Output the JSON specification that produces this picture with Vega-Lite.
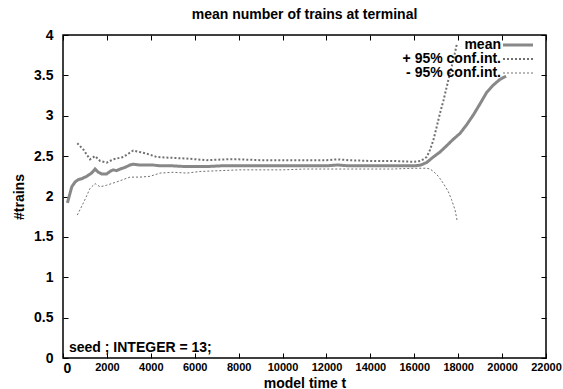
{
  "$schema": "https://vega.github.io/schema/vega-lite/v6.json",
  "width": 483,
  "height": 323,
  "autosize": {"type": "none"},
  "padding": {"left": 63, "top": 35, "right": 17, "bottom": 31},
  "background": "white",
  "title": {"text": "mean number of trains at terminal", "font": "Liberation Sans", "fontSize": 14, "fontWeight": "bold", "color": "black", "anchor": "middle", "frame": "group", "baseline": "alphabetic", "offset": -5},
  "config": {
    "view": {"stroke": "black", "strokeWidth": 1.5},
    "font": "Liberation Sans",
    "axis": {"grid": false, "domain": false, "tickColor": "black", "tickWidth": 1, "tickSize": 5, "offset": -5, "labelColor": "black", "labelFont": "Liberation Sans", "labelFontWeight": "bold", "titleFont": "Liberation Sans", "titleFontWeight": "bold", "titleFontSize": 14, "titleColor": "black", "labelFlush": false, "labelOverlap": false}
  },
  "datasets": {
    "lines": [
      {"t": 200, "v": 1.92, "s": "mean"},
      {"t": 400, "v": 2.12, "s": "mean"},
      {"t": 550, "v": 2.18, "s": "mean"},
      {"t": 700, "v": 2.21, "s": "mean"},
      {"t": 850, "v": 2.22, "s": "mean"},
      {"t": 1080, "v": 2.25, "s": "mean"},
      {"t": 1300, "v": 2.29, "s": "mean"},
      {"t": 1460, "v": 2.34, "s": "mean"},
      {"t": 1610, "v": 2.30, "s": "mean"},
      {"t": 1760, "v": 2.28, "s": "mean"},
      {"t": 1990, "v": 2.28, "s": "mean"},
      {"t": 2140, "v": 2.31, "s": "mean"},
      {"t": 2290, "v": 2.33, "s": "mean"},
      {"t": 2440, "v": 2.32, "s": "mean"},
      {"t": 2600, "v": 2.34, "s": "mean"},
      {"t": 2820, "v": 2.36, "s": "mean"},
      {"t": 3050, "v": 2.39, "s": "mean"},
      {"t": 3200, "v": 2.40, "s": "mean"},
      {"t": 3500, "v": 2.39, "s": "mean"},
      {"t": 3800, "v": 2.39, "s": "mean"},
      {"t": 4100, "v": 2.39, "s": "mean"},
      {"t": 4400, "v": 2.38, "s": "mean"},
      {"t": 5000, "v": 2.38, "s": "mean"},
      {"t": 5600, "v": 2.37, "s": "mean"},
      {"t": 6500, "v": 2.37, "s": "mean"},
      {"t": 7200, "v": 2.38, "s": "mean"},
      {"t": 8000, "v": 2.38, "s": "mean"},
      {"t": 9000, "v": 2.38, "s": "mean"},
      {"t": 10000, "v": 2.38, "s": "mean"},
      {"t": 11000, "v": 2.38, "s": "mean"},
      {"t": 12000, "v": 2.38, "s": "mean"},
      {"t": 12500, "v": 2.39, "s": "mean"},
      {"t": 13000, "v": 2.38, "s": "mean"},
      {"t": 14000, "v": 2.38, "s": "mean"},
      {"t": 15000, "v": 2.38, "s": "mean"},
      {"t": 16000, "v": 2.38, "s": "mean"},
      {"t": 16300, "v": 2.39, "s": "mean"},
      {"t": 16560, "v": 2.42, "s": "mean"},
      {"t": 16870, "v": 2.49, "s": "mean"},
      {"t": 17170, "v": 2.55, "s": "mean"},
      {"t": 17480, "v": 2.63, "s": "mean"},
      {"t": 17780, "v": 2.71, "s": "mean"},
      {"t": 18080, "v": 2.78, "s": "mean"},
      {"t": 18390, "v": 2.89, "s": "mean"},
      {"t": 18690, "v": 3.01, "s": "mean"},
      {"t": 19000, "v": 3.15, "s": "mean"},
      {"t": 19300, "v": 3.29, "s": "mean"},
      {"t": 19600, "v": 3.38, "s": "mean"},
      {"t": 19900, "v": 3.45, "s": "mean"},
      {"t": 20180, "v": 3.49, "s": "mean"},
      {"t": 650, "v": 2.66, "s": "+ 95% conf.int."},
      {"t": 930, "v": 2.58, "s": "+ 95% conf.int."},
      {"t": 1230, "v": 2.46, "s": "+ 95% conf.int."},
      {"t": 1460, "v": 2.50, "s": "+ 95% conf.int."},
      {"t": 1690, "v": 2.44, "s": "+ 95% conf.int."},
      {"t": 1990, "v": 2.42, "s": "+ 95% conf.int."},
      {"t": 2290, "v": 2.46, "s": "+ 95% conf.int."},
      {"t": 2750, "v": 2.49, "s": "+ 95% conf.int."},
      {"t": 3200, "v": 2.57, "s": "+ 95% conf.int."},
      {"t": 3500, "v": 2.55, "s": "+ 95% conf.int."},
      {"t": 3810, "v": 2.53, "s": "+ 95% conf.int."},
      {"t": 4270, "v": 2.49, "s": "+ 95% conf.int."},
      {"t": 4870, "v": 2.48, "s": "+ 95% conf.int."},
      {"t": 5640, "v": 2.47, "s": "+ 95% conf.int."},
      {"t": 6550, "v": 2.45, "s": "+ 95% conf.int."},
      {"t": 7450, "v": 2.46, "s": "+ 95% conf.int."},
      {"t": 8000, "v": 2.46, "s": "+ 95% conf.int."},
      {"t": 8970, "v": 2.45, "s": "+ 95% conf.int."},
      {"t": 10000, "v": 2.45, "s": "+ 95% conf.int."},
      {"t": 11000, "v": 2.45, "s": "+ 95% conf.int."},
      {"t": 12000, "v": 2.45, "s": "+ 95% conf.int."},
      {"t": 12500, "v": 2.46, "s": "+ 95% conf.int."},
      {"t": 13000, "v": 2.45, "s": "+ 95% conf.int."},
      {"t": 14000, "v": 2.44, "s": "+ 95% conf.int."},
      {"t": 15000, "v": 2.44, "s": "+ 95% conf.int."},
      {"t": 16000, "v": 2.43, "s": "+ 95% conf.int."},
      {"t": 16300, "v": 2.44, "s": "+ 95% conf.int."},
      {"t": 16570, "v": 2.49, "s": "+ 95% conf.int."},
      {"t": 16720, "v": 2.58, "s": "+ 95% conf.int."},
      {"t": 16870, "v": 2.70, "s": "+ 95% conf.int."},
      {"t": 17020, "v": 2.86, "s": "+ 95% conf.int."},
      {"t": 17170, "v": 3.03, "s": "+ 95% conf.int."},
      {"t": 17330, "v": 3.19, "s": "+ 95% conf.int."},
      {"t": 17480, "v": 3.36, "s": "+ 95% conf.int."},
      {"t": 17630, "v": 3.53, "s": "+ 95% conf.int."},
      {"t": 17780, "v": 3.69, "s": "+ 95% conf.int."},
      {"t": 17950, "v": 3.90, "s": "+ 95% conf.int."},
      {"t": 650, "v": 1.77, "s": "- 95% conf.int."},
      {"t": 930, "v": 1.92, "s": "- 95% conf.int."},
      {"t": 1230, "v": 2.10, "s": "- 95% conf.int."},
      {"t": 1460, "v": 2.16, "s": "- 95% conf.int."},
      {"t": 1690, "v": 2.12, "s": "- 95% conf.int."},
      {"t": 1990, "v": 2.14, "s": "- 95% conf.int."},
      {"t": 2440, "v": 2.18, "s": "- 95% conf.int."},
      {"t": 3050, "v": 2.24, "s": "- 95% conf.int."},
      {"t": 3500, "v": 2.24, "s": "- 95% conf.int."},
      {"t": 3960, "v": 2.25, "s": "- 95% conf.int."},
      {"t": 4420, "v": 2.29, "s": "- 95% conf.int."},
      {"t": 5030, "v": 2.30, "s": "- 95% conf.int."},
      {"t": 5640, "v": 2.29, "s": "- 95% conf.int."},
      {"t": 6240, "v": 2.31, "s": "- 95% conf.int."},
      {"t": 7150, "v": 2.32, "s": "- 95% conf.int."},
      {"t": 8060, "v": 2.33, "s": "- 95% conf.int."},
      {"t": 8970, "v": 2.33, "s": "- 95% conf.int."},
      {"t": 10000, "v": 2.33, "s": "- 95% conf.int."},
      {"t": 11000, "v": 2.34, "s": "- 95% conf.int."},
      {"t": 12000, "v": 2.34, "s": "- 95% conf.int."},
      {"t": 13000, "v": 2.34, "s": "- 95% conf.int."},
      {"t": 14000, "v": 2.34, "s": "- 95% conf.int."},
      {"t": 15000, "v": 2.34, "s": "- 95% conf.int."},
      {"t": 16000, "v": 2.35, "s": "- 95% conf.int."},
      {"t": 16570, "v": 2.35, "s": "- 95% conf.int."},
      {"t": 16720, "v": 2.34, "s": "- 95% conf.int."},
      {"t": 16870, "v": 2.31, "s": "- 95% conf.int."},
      {"t": 17100, "v": 2.25, "s": "- 95% conf.int."},
      {"t": 17330, "v": 2.16, "s": "- 95% conf.int."},
      {"t": 17550, "v": 2.06, "s": "- 95% conf.int."},
      {"t": 17700, "v": 1.96, "s": "- 95% conf.int."},
      {"t": 17860, "v": 1.83, "s": "- 95% conf.int."},
      {"t": 17960, "v": 1.69, "s": "- 95% conf.int."}
    ],
    "note": [{"t": 0, "v": 0, "label": "seed ; INTEGER = 13;"}]
  },
  "layer": [
    {
      "data": {"name": "lines"},
      "mark": {"type": "line", "clip": true, "strokeCap": "butt"},
      "encoding": {
        "x": {"field": "t", "type": "quantitative", "scale": {"domain": [0, 22000], "nice": false, "zero": false},
          "axis": {"orient": "bottom", "values": [0,2000,4000,6000,8000,10000,12000,14000,16000,18000,20000,22000], "format": "d", "title": "model time t", "labelPadding": 3, "titlePadding": 1,
            "labelFontSize": {"condition": {"test": "datum.value === 0", "value": 14}, "value": 11},
            "labelAlign": {"condition": {"test": "datum.value === 0", "value": "left"}, "value": "center"}}},
        "y": {"field": "v", "type": "quantitative", "scale": {"domain": [0, 4], "nice": false},
          "axis": {"orient": "left", "values": [0,0.5,1,1.5,2,2.5,3,3.5,4], "format": "~g", "title": "#trains", "labelFontSize": 14, "labelPadding": 10, "titlePadding": 7}},
        "color": {"field": "s", "type": "nominal", "scale": {"domain": ["mean", "+ 95% conf.int.", "- 95% conf.int."], "range": ["#888888", "#707070", "#707070"]},
          "legend": {"title": null, "orient": "none", "legendX": 448, "legendY": 3, "padding": 0, "symbolType": "M-5,0H5", "symbolSize": 36, "labelAlign": "right", "labelOffset": -24, "labelFontSize": 14, "labelFont": "Liberation Sans", "labelFontWeight": "bold", "labelColor": "black", "rowPadding": -4}},
        "strokeDash": {"field": "s", "type": "nominal", "scale": {"domain": ["mean", "+ 95% conf.int.", "- 95% conf.int."], "range": [[1, 0], [2, 2], [2, 2]]},
          "legend": {"title": null, "orient": "none", "legendX": 448, "legendY": 3, "padding": 0, "symbolType": "M-5,0H5", "symbolSize": 36, "labelAlign": "right", "labelOffset": -24, "labelFontSize": 14, "labelFont": "Liberation Sans", "labelFontWeight": "bold", "labelColor": "black", "rowPadding": -4}},
        "strokeWidth": {"field": "s", "type": "nominal", "scale": {"domain": ["mean", "+ 95% conf.int.", "- 95% conf.int."], "range": [3, 1, 1]},
          "legend": {"title": null, "orient": "none", "legendX": 448, "legendY": 3, "padding": 0, "symbolType": "M-5,0H5", "symbolSize": 36, "labelAlign": "right", "labelOffset": -24, "labelFontSize": 14, "labelFont": "Liberation Sans", "labelFontWeight": "bold", "labelColor": "black", "rowPadding": -4}}
      }
    },
    {
      "data": {"name": "note"},
      "mark": {"type": "text", "align": "left", "baseline": "alphabetic", "dx": 6, "dy": -6, "font": "Liberation Sans", "fontSize": 14, "fontWeight": "bold", "color": "black"},
      "encoding": {
        "x": {"field": "t", "type": "quantitative", "scale": {"domain": [0, 22000], "nice": false, "zero": false},
          "axis": {"orient": "top", "values": [0,2000,4000,6000,8000,10000,12000,14000,16000,18000,20000,22000], "labels": false, "title": null}},
        "y": {"field": "v", "type": "quantitative", "scale": {"domain": [0, 4], "nice": false},
          "axis": {"orient": "right", "values": [0,0.5,1,1.5,2,2.5,3,3.5,4], "labels": false, "title": null}},
        "text": {"field": "label"}
      }
    }
  ],
  "resolve": {"axis": {"x": "independent", "y": "independent"}}
}
